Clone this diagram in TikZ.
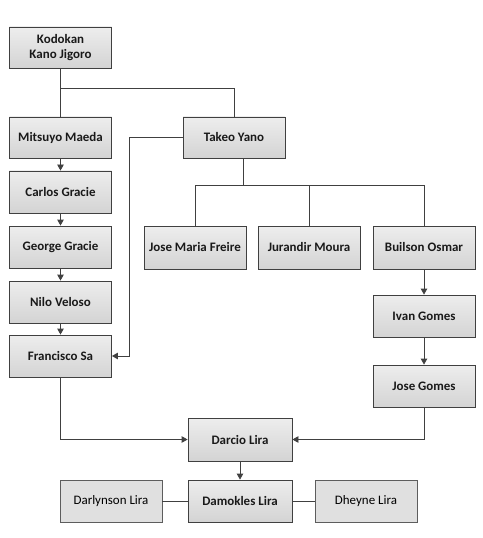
\documentclass[tikz,border=0pt]{standalone}
\usepackage{fontspec}
\setmainfont{Carlito}
\usetikzlibrary{arrows.meta}
\definecolor{edge}{HTML}{404040}
\tikzset{
  box/.style={draw=edge, line width=0.8bp, top color=white!93!black, bottom color=white!83!black,
    minimum width=102bp, minimum height=42bp, inner sep=2bp, align=center,
    font=\fontsize{13}{15}\selectfont\bfseries, text=black!90},
  flatbox/.style={draw=edge!85, line width=0.8bp, fill=white!88!black,
    minimum width=102bp, minimum height=42bp, inner sep=2bp, align=center,
    font=\fontsize{13}{15}\selectfont, text=black},
  conn/.style={draw=edge, line width=0.8bp},
  arr/.style={conn, -{Triangle[length=6bp,width=6.5bp]}}
}
\begin{document}
\begin{tikzpicture}[x=1bp,y=-1bp]
\useasboundingbox (0,0) rectangle (483,538);
\node[box, minimum height=41bp] (kano) at (60.5,47.5) {Kodokan\\Kano Jigoro};
\node[box, minimum height=41bp] (maeda) at (60.5,137.5) {Mitsuyo Maeda};
\node[box] (carlos) at (60.5,192) {Carlos Gracie};
\node[box] (george) at (60.5,247) {George Gracie};
\node[box] (nilo) at (60.5,302) {Nilo Veloso};
\node[box] (francisco) at (60.5,356) {Francisco Sa};
\node[box, minimum height=41bp] (takeo) at (234,137.5) {Takeo Yano};
\node[box, minimum height=43bp] (jmf) at (195,247.5) {Jose Maria Freire};
\node[box, minimum height=43bp] (jurandir) at (309,247.5) {Jurandir Moura};
\node[box, minimum height=43bp] (builson) at (424,247.5) {Builson Osmar};
\node[box] (ivan) at (424,316) {Ivan Gomes};
\node[box] (josegomes) at (424,386) {Jose Gomes};
\node[box, minimum width=104bp, minimum height=43bp] (darcio) at (240,439.5) {Darcio Lira};
\node[box, minimum width=104bp] (damokles) at (240,501) {Damokles Lira};
\node[flatbox] (darlynson) at (111,501) {Darlynson Lira};
\node[flatbox] (dheyne) at (366,501) {Dheyne Lira};

\draw[conn] (kano.south) -- (maeda.north);
\draw[conn] (kano.south) ++(0,20) -| (takeo.north);
\draw[arr] (maeda) -- (carlos);
\draw[arr] (carlos) -- (george);
\draw[arr] (george) -- (nilo);
\draw[arr] (nilo) -- (francisco);
\draw[arr] (takeo.west) -- ++(-53,0) |- (francisco.east);
\draw[conn] ([xshift=9bp]takeo.south) -- ++(0,27) coordinate (tb);
\draw[conn] (tb) -| (jmf.north);
\draw[conn] (tb) -| (builson.north);
\draw[conn] (tb) -| (jurandir.north);
\draw[arr] (builson) -- (ivan);
\draw[arr] (ivan) -- (josegomes);
\draw[arr] (francisco.south) |- (darcio.west);
\draw[arr] (josegomes.south) |- (darcio.east);
\draw[arr] (darcio) -- (damokles);
\draw[conn] (darlynson) -- (damokles);
\draw[conn] (damokles) -- (dheyne);
\end{tikzpicture}
\end{document}
